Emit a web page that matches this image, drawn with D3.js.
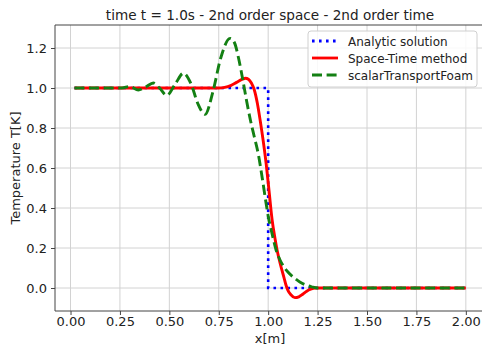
<!DOCTYPE html>
<html>
<head>
<meta charset="utf-8">
<script src="https://cdn.jsdelivr.net/npm/d3@7/dist/d3.min.js"></script>
<style>
  html, body { margin: 0; padding: 0; background: #fff; }
  svg { display: block; font-family: "DejaVu Sans", sans-serif; }
</style>
</head>
<body>
<svg id="chart" width="482" height="346"></svg>
<script>
// Temperature profiles at t = 1.0 s
const analyticX = [0.02, 1.0, 1.0, 2.0];
const analyticT = [1.0, 1.0, 0.0, 0.0];

const spaceTimeX = [0.02, 0.50, 0.75, 0.78, 0.81, 0.84, 0.87, 0.885, 0.90, 0.915, 0.93, 0.945, 0.96, 0.975, 0.99,
  1.005, 1.02, 1.035, 1.045, 1.06, 1.07, 1.08, 1.09, 1.10, 1.115, 1.135, 1.155, 1.175, 1.195, 1.215, 1.24, 1.5, 2.0];
const spaceTimeT = [1.0, 1.0, 1.0, 1.003, 1.012, 1.028, 1.044, 1.049, 1.044, 1.025, 0.99, 0.925, 0.835, 0.735, 0.62,
  0.48, 0.34, 0.245, 0.19, 0.125, 0.088, 0.052, 0.015, -0.012, -0.034, -0.048, -0.044, -0.031, -0.016, -0.006, 0.0, 0.0, 0.0];

const foamX = [0.02, 0.20, 0.26, 0.30, 0.343, 0.38, 0.419, 0.45, 0.487, 0.53, 0.571, 0.61, 0.645, 0.681, 0.72, 0.76,
  0.807, 0.83, 0.85, 0.87, 0.89, 0.91, 0.93, 0.95, 0.97, 0.99, 1.0, 1.02, 1.04, 1.06, 1.08, 1.10, 1.13, 1.16, 1.19, 1.22, 1.25, 1.5, 2.0];
const foamT = [1.0, 1.0, 1.0, 1.008, 0.99, 1.005, 1.025, 1.0, 0.963, 1.02, 1.074, 1.02, 0.92, 0.868, 0.98, 1.15,
  1.248, 1.225, 1.15, 1.05, 0.94, 0.84, 0.755, 0.67, 0.55, 0.42, 0.36, 0.27, 0.19, 0.14, 0.105, 0.08, 0.052, 0.03, 0.015, 0.006, 0.0, 0.0, 0.0];

const xTicks = [0.0, 0.25, 0.5, 0.75, 1.0, 1.25, 1.5, 1.75, 2.0];
const yTicks = [0.0, 0.2, 0.4, 0.6, 0.8, 1.0, 1.2];

const titleText = "time t = 1.0s - 2nd order space - 2nd order time";
const xLabel = "x[m]";
const yLabel = "Temperature T[K]";
const seriesNames = ["Analytic solution", "Space-Time method", "scalarTransportFoam"];

const svg = d3.select("#chart");
const plot = { left: 55, right: 485.3, top: 25, bottom: 311 };

const x = d3.scaleLinear().domain([-0.0785, 2.0985]).range([plot.left, plot.right]);
const y = d3.scaleLinear().domain([-0.115, 1.315]).range([plot.bottom, plot.top]);

svg.append("defs").append("clipPath").attr("id", "plotClip")
  .append("rect")
  .attr("x", plot.left).attr("y", plot.top)
  .attr("width", plot.right - plot.left).attr("height", plot.bottom - plot.top);

// grid
const grid = svg.append("g").attr("stroke", "#d2d2d2").attr("stroke-width", 1);
grid.selectAll("line.gx").data(xTicks).join("line")
  .attr("x1", d => x(d)).attr("x2", d => x(d))
  .attr("y1", plot.top).attr("y2", plot.bottom);
grid.selectAll("line.gy").data(yTicks).join("line")
  .attr("x1", plot.left).attr("x2", plot.right)
  .attr("y1", d => y(d)).attr("y2", d => y(d));

// axes
const xAxis = d3.axisBottom(x).tickValues(xTicks).tickFormat(d3.format(".2f")).tickSizeOuter(0).tickSize(4).tickPadding(2);
const yAxis = d3.axisLeft(y).tickValues(yTicks).tickFormat(d3.format(".1f")).tickSizeOuter(0).tickSize(4).tickPadding(4);

const gx = svg.append("g").attr("transform", `translate(0,${plot.bottom})`).call(xAxis);
const gy = svg.append("g").attr("transform", `translate(${plot.left},0)`).call(yAxis);
[gx, gy].forEach(g => {
  g.select(".domain").remove();
  g.selectAll(".tick line").attr("stroke", "#444");
  g.selectAll(".tick text").attr("fill", "#222").style("font-size", "13px").style("font-family", "DejaVu Sans");
});

// spines
svg.append("line").attr("x1", plot.left).attr("x2", plot.left).attr("y1", plot.top).attr("y2", plot.bottom)
  .attr("stroke", "#444").attr("stroke-width", 1);
svg.append("line").attr("x1", plot.left).attr("x2", plot.right).attr("y1", plot.bottom).attr("y2", plot.bottom)
  .attr("stroke", "#444").attr("stroke-width", 1);
svg.append("line").attr("x1", plot.left).attr("x2", plot.right).attr("y1", plot.top).attr("y2", plot.top)
  .attr("stroke", "#444").attr("stroke-width", 1);

// series
const lines = svg.append("g").attr("clip-path", "url(#plotClip)").attr("fill", "none");
const toPts = (xs, ts) => xs.map((v, i) => [v, ts[i]]);
const straight = d3.line().x(d => x(d[0])).y(d => y(d[1]));
const smooth = d3.line().x(d => x(d[0])).y(d => y(d[1])).curve(d3.curveMonotoneX);

lines.append("path").attr("d", straight(toPts(analyticX, analyticT)))
  .attr("stroke", "#0000ff").attr("stroke-width", 2.6).attr("stroke-dasharray", "2.6,4.4");
lines.append("path").attr("d", smooth(toPts(spaceTimeX, spaceTimeT)))
  .attr("stroke", "#ff0000").attr("stroke-width", 2.9);
lines.append("path").attr("d", smooth(toPts(foamX, foamT)))
  .attr("stroke", "#138013").attr("stroke-width", 2.9).attr("stroke-dasharray", "10,4.6");

// title and labels
svg.append("text").attr("x", 270).attr("y", 20).attr("text-anchor", "middle")
  .style("font-size", "13.6px").attr("fill", "#222").text(titleText);
svg.append("text").attr("x", 270).attr("y", 343).attr("text-anchor", "middle")
  .style("font-size", "13px").attr("fill", "#222").text(xLabel);
svg.append("text").attr("transform", `translate(20,${(plot.top + plot.bottom) / 2}) rotate(-90)`)
  .attr("text-anchor", "middle").style("font-size", "13px").attr("fill", "#222").text(yLabel);

// legend
const legend = svg.append("g");
legend.append("rect").attr("x", 308).attr("y", 31).attr("width", 169).attr("height", 56)
  .attr("rx", 3).attr("fill", "#fff").attr("fill-opacity", 0.85).attr("stroke", "#d0d0d0").attr("stroke-width", 1);
const legendStyles = [
  { stroke: "#0000ff", dash: "2.6,4.4" },
  { stroke: "#ff0000", dash: null },
  { stroke: "#138013", dash: "10,4.6" }
];
seriesNames.forEach((name, i) => {
  const cy = 41 + i * 17;
  legend.append("line").attr("x1", 312).attr("x2", 338).attr("y1", cy).attr("y2", cy)
    .attr("stroke", legendStyles[i].stroke).attr("stroke-width", 2.8)
    .attr("stroke-dasharray", legendStyles[i].dash);
  legend.append("text").attr("x", 348).attr("y", cy + 4.5)
    .style("font-size", "12px").attr("fill", "#222").text(name);
});
</script>
</body>
</html>
